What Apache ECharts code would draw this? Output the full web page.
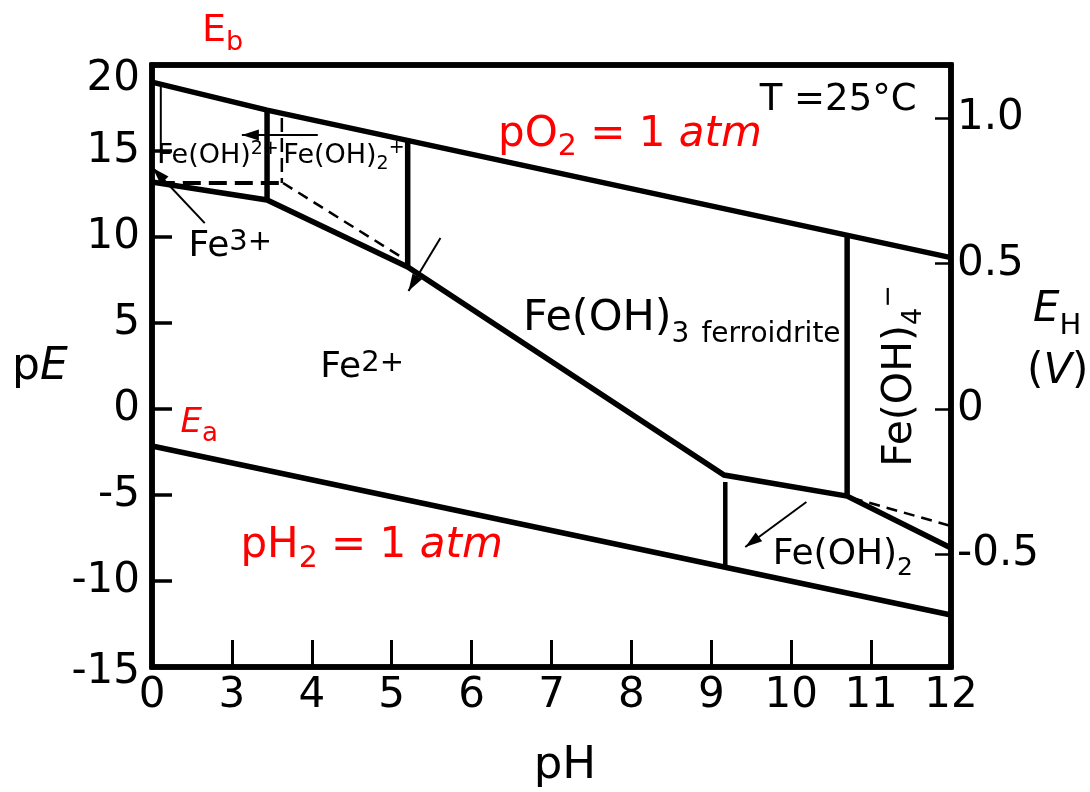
<!DOCTYPE html>
<html>
<head>
<meta charset="utf-8">
<script src="https://cdn.jsdelivr.net/npm/echarts@6/dist/echarts.min.js"></script>
<style>html,body{margin:0;padding:0;background:#fff}#c{width:1090px;height:792px}</style>
</head>
<body>
<div id="c"></div>
<script>
// ---------- DATA ----------
// x values are axis positions: 2 is the "0" tick (compressed first segment), 3..12 are pH.
const xTickValues = [2, 3, 4, 5, 6, 7, 8, 9, 10, 11, 12];
const xTickLabels = ['0', '3', '4', '5', '6', '7', '8', '9', '10', '11', '12'];
const pETicks = [-15, -10, -5, 0, 5, 10, 15, 20];
const ehTicks = [-0.5, 0, 0.5, 1.0];
const ehTickLabels = ['-0.5', '0', '0.5', '1.0'];
const VOLT_PER_PE = 0.05916;

// boundaries [x, pE]
const o2Line = [[2, 19.0], [3.44, 17.38], [12, 8.8]];
const h2Line = [[2, -2.15], [12, -11.98]];
const lowerBoundary = [[2, 13.2], [3.44, 12.15], [5.2, 8.26], [9.16, -3.84], [10.7, -5.06], [12, -8.08]];
const vertFeOH2p = [[3.44, 17.38], [3.44, 12.15]];
const vertFe3Fe2 = [[5.2, 15.6], [5.2, 8.26]];
const vertFeOH4 = [[10.7, 10.08], [10.7, -5.06]];
const vertFeOH2 = [[9.175, -4.24], [9.175, -9.21]];
const thinVert = [[2.11, 18.78], [2.11, 14.3]];
const dashHoriz = [[2.06, 13.14], [3.625, 13.14]];
const dashVert = [[3.625, 16.92], [3.625, 13.14]];
const dashDiag = [[3.64, 13.14], [5.16, 8.72]];
const dashRight = [[10.76, -5.17], [12, -6.8]];

// arrows [tail, head]
const arrowList = [
  [[4.075, 15.93], [3.125, 15.93]],
  [[2.66, 10.81], [2.01, 14.01]],
  [[5.61, 9.94], [5.21, 6.86]],
  [[10.19, -5.41], [9.425, -8.02]]
];

// ---------- STYLE HELPERS ----------
const FONT = 'DejaVu Sans';
const RED = '#ff0000';
function tk(size, shift, o) {
  o = o || {};
  return {
    fontSize: size, fontFamily: FONT, color: o.color || '#000', fill: o.color || '#000',
    fontStyle: o.italic ? 'italic' : 'normal', verticalAlign: 'middle',
    lineHeight: Math.round(size * 1.2),
    padding: [shift > 0 ? 2 * shift : 0, 0, shift < 0 ? -2 * shift : 0, o.padLeft || 0]
  };
}

const annotations = [
  { at: [2.0625, 14.71], text: '{m|Fe(OH)}{sup|2+}', rich: { m: tk(27, 0), sup: tk(19, -7) } },
  { at: [3.6375, 14.71], text: '{m|Fe(OH)}{sub|2}{sup|+}', rich: { m: tk(27, 0), sub: tk(19, 8), sup: tk(19, -8) } },
  { at: [2.45, 9.42], text: '{m|Fe}{sup|3+}', rich: { m: tk(36, 0), sup: tk(29, -5) } },
  { at: [4.1, 2.38], text: '{m|Fe}{sup|2+}', rich: { m: tk(36, 0), sup: tk(29, -5) } },
  { at: [6.6375, 5.23], text: '{m|Fe(OH)}{sub|3}{f|ferroidrite}', rich: { m: tk(43, 0), sub: tk(28, 16), f: tk(28, 16, { padLeft: 12 }) } },
  { at: [9.7625, -8.49], text: '{m|Fe(OH)}{sub|2}', rich: { m: tk(36, 0), sub: tk(25, 13) } },
  { at: [11.3625, 1.92], rotate: 90, text: '{m|Fe(OH)}{sub|4}{sup|\u2212}', rich: { m: tk(41, 0), sub: tk(27, 14), sup: tk(27, -11) } },
  { at: [6.325, 15.93], text: '{m|pO}{sub|2}{m| = 1 }{i|atm}', rich: { m: tk(42, 0, { color: RED }), sub: tk(30, 12, { color: RED }), i: tk(42, 0, { color: RED, italic: true }) } },
  { at: [3.1, -7.97], text: '{m|pH}{sub|2}{m| = 1 }{i|atm}', rich: { m: tk(42, 0, { color: RED }), sub: tk(30, 13, { color: RED }), i: tk(42, 0, { color: RED, italic: true }) } },
  { at: [9.6, 17.95], text: '{m|T =25°C}', rich: { m: tk(37, 0) } },
  { at: [2.35, -0.81], text: '{i|E}{sub|a}', rich: { i: tk(34, 0, { color: RED, italic: true }), sub: tk(26, 11, { color: RED }) } }
];

// ---------- CHART ----------
const chart = echarts.init(document.getElementById('c'), null, { renderer: 'canvas' });

function lineSeries(name, pts, width, dash, extra) {
  return Object.assign({
    name: name, type: 'line', data: pts, symbol: 'none', showSymbol: false,
    silent: true, animation: false, xAxisIndex: 0, yAxisIndex: 0, z: 3,
    lineStyle: { color: '#000', width: width, type: dash || 'solid', cap: 'butt', join: 'miter', opacity: 1 },
    emphasis: { disabled: true }
  }, extra || {});
}

const arrowMarkData = arrowList.map(function (a) {
  return [
    { coord: a[0], symbol: 'none' },
    { coord: a[1], symbol: 'triangle', symbolSize: [11, 17], symbolOffset: [0, 8.5] }
  ];
});

const W = 5.5;
const series = [
  lineSeries('O2', o2Line, W, 'solid', {
    markLine: {
      silent: true, animation: false, symbol: ['none', 'triangle'],
      label: { show: false }, emphasis: { disabled: true },
      lineStyle: { color: '#000', width: 2, type: 'solid', opacity: 1 },
      itemStyle: { color: '#000', opacity: 1 },
      data: arrowMarkData
    }
  }),
  lineSeries('H2', h2Line, W),
  lineSeries('lower', lowerBoundary, W),
  lineSeries('v1', vertFeOH2p, W),
  lineSeries('v2', vertFe3Fe2, W),
  lineSeries('v3', vertFeOH4, W),
  lineSeries('v4', vertFeOH2, 4.5),
  lineSeries('thin', thinVert, 2),
  lineSeries('dashH', dashHoriz, 4, [18, 8]),
  lineSeries('dashV', dashVert, 2.5, [14, 6]),
  lineSeries('dashDiag', dashDiag, 2.5, [11, 7]),
  lineSeries('dashRight', dashRight, 2.5, [11, 7]),
  {
    name: 'labels', type: 'scatter', silent: true, animation: false, z: 6,
    symbolSize: 1, itemStyle: { color: 'rgba(0,0,0,0)', opacity: 1 }, emphasis: { disabled: true },
    data: annotations.map(function (a) {
      const lab = {
        show: true, formatter: a.text, rich: a.rich, color: '#000', fontFamily: FONT, opacity: 1
      };
      if (a.rotate) {
        lab.position = 'inside'; lab.rotate = a.rotate; lab.align = 'center'; lab.verticalAlign = 'middle';
      } else {
        lab.position = 'right'; lab.distance = 0;
      }
      return { value: a.at, label: lab };
    })
  }
];

function gtext(x, y, text, rich, align) {
  return {
    type: 'text', x: x, y: y, silent: true, z: 10,
    style: {
      text: text, rich: rich, x: 0, y: 0,
      align: align || 'left', verticalAlign: 'middle',
      textAlign: align || 'left', textVerticalAlign: 'middle',
      fill: '#000', fontFamily: FONT
    }
  };
}

const AX = 42;
const option = {
  animation: false,
  backgroundColor: '#fff',
  textStyle: { fontFamily: FONT },
  grid: { left: 152, right: 139, top: 65, bottom: 125, containLabel: false, outerBoundsMode: 'none',
          show: true, borderColor: '#000', borderWidth: 5.5, backgroundColor: 'transparent' },
  xAxis: [
    {
      type: 'value', min: 2, max: 12, interval: 1, position: 'bottom',
      axisLine: { show: true, onZero: false, lineStyle: { color: '#000', width: 5.5 } },
      axisTick: { show: true, inside: true, length: 27, lineStyle: { color: '#000', width: 3 } },
      axisLabel: {
        color: '#000', fontSize: AX, fontFamily: FONT, margin: 8,
        formatter: function (v) { const i = xTickValues.indexOf(v); return i >= 0 ? xTickLabels[i] : ''; }
      },
      splitLine: { show: false }
    },
    {
      type: 'value', min: 2, max: 12, position: 'top',
      axisLine: { show: true, onZero: false, lineStyle: { color: '#000', width: 5.5 } },
      axisTick: { show: false }, axisLabel: { show: false }, splitLine: { show: false }
    }
  ],
  yAxis: [
    {
      type: 'value', min: pETicks[0], max: pETicks[pETicks.length - 1], interval: 5, position: 'left',
      axisLine: { show: true, onZero: false, lineStyle: { color: '#000', width: 5.5 } },
      axisTick: { show: true, inside: true, length: 20, lineStyle: { color: '#000', width: 3.5 } },
      axisLabel: {
        color: '#000', fontSize: AX, fontFamily: FONT, margin: 12,
        formatter: function (v) {
          if (v === 20) return '{lo|20}';
          if (v === -15) return '{lo2|-15}';
          return String(v);
        },
        rich: {
          lo: { fontSize: AX, fontFamily: FONT, color: '#000', padding: [28, 0, 0, 0] },
          lo2: { fontSize: AX, fontFamily: FONT, color: '#000', padding: [10, 0, 0, 0] }
        }
      },
      splitLine: { show: false }
    },
    {
      type: 'value', min: pETicks[0] * VOLT_PER_PE, max: pETicks[pETicks.length - 1] * VOLT_PER_PE,
      position: 'right',
      axisLine: { show: true, onZero: false, lineStyle: { color: '#000', width: 5.5 } },
      axisTick: { show: true, inside: true, length: 16, customValues: ehTicks, lineStyle: { color: '#000', width: 2.5 } },
      axisLabel: {
        color: '#000', fontSize: AX, fontFamily: FONT, margin: 6, customValues: ehTicks,
        formatter: function (v) {
          for (let i = 0; i < ehTicks.length; i++) if (Math.abs(ehTicks[i] - v) < 1e-6) return ehTickLabels[i];
          return '';
        }
      },
      splitLine: { show: false }
    }
  ],
  graphic: [
    gtext(202, 31, '{e|E}{s|b}', { e: tk(38, 0, { color: RED }), s: tk(27, 12, { color: RED }) }),
    gtext(12, 368, '{n|p}{i|E}', { n: tk(44, 0), i: tk(44, 0, { italic: true }) }),
    gtext(1033, 310, '{i|E}{s|H}', { i: tk(42, 0, { italic: true }), s: tk(29, 16) }),
    gtext(1027, 372, '{n|(}{i|V}{n|)}', { n: tk(42, 0), i: tk(42, 0, { italic: true }) }),
    gtext(565, 766, '{n|pH}', { n: tk(45, 0) }, 'center')
  ],
  series: series
};

chart.setOption(option);
</script>
</body>
</html>
